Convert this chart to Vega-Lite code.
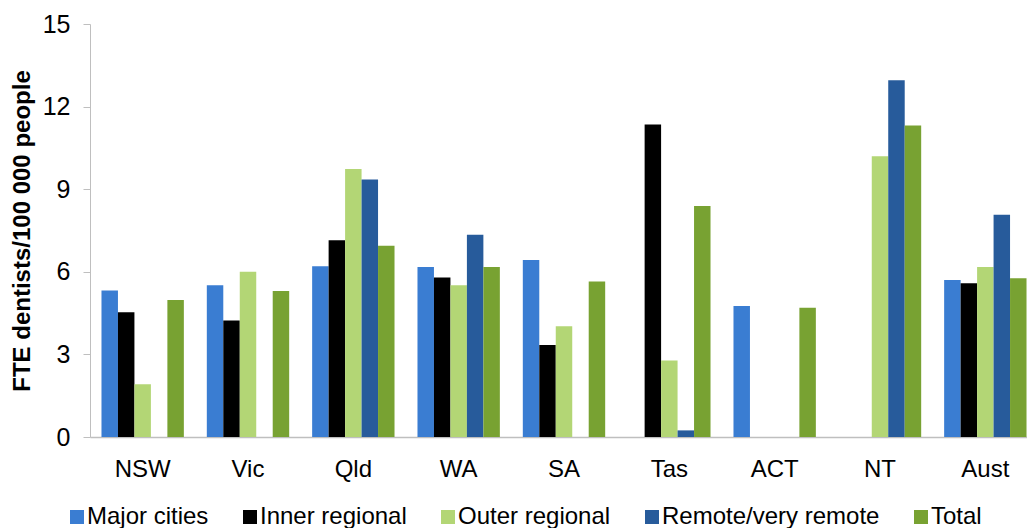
{
  "$schema": "https://vega.github.io/schema/vega-lite/v6.json",
  "width": 948,
  "height": 413,
  "autosize": {"type": "none"},
  "padding": {"left": 90, "top": 24, "right": 0, "bottom": 91},
  "background": "white",
  "config": {
    "view": {"stroke": null},
    "font": "Liberation Sans",
    "axis": {"domainColor": "#BFBFBF", "tickColor": "#BFBFBF", "labelColor": "#000000", "titleColor": "#000000", "grid": false}
  },
  "data": {
    "values": [
      {"state": "NSW", "area": "Major cities", "value": 5.32},
      {"state": "NSW", "area": "Inner regional", "value": 4.53},
      {"state": "NSW", "area": "Outer regional", "value": 1.92},
      {"state": "NSW", "area": "Total", "value": 4.98},
      {"state": "Vic", "area": "Major cities", "value": 5.51},
      {"state": "Vic", "area": "Inner regional", "value": 4.23},
      {"state": "Vic", "area": "Outer regional", "value": 6.0},
      {"state": "Vic", "area": "Total", "value": 5.3},
      {"state": "Qld", "area": "Major cities", "value": 6.2},
      {"state": "Qld", "area": "Inner regional", "value": 7.15},
      {"state": "Qld", "area": "Outer regional", "value": 9.73},
      {"state": "Qld", "area": "Remote/very remote", "value": 9.35},
      {"state": "Qld", "area": "Total", "value": 6.95},
      {"state": "WA", "area": "Major cities", "value": 6.17},
      {"state": "WA", "area": "Inner regional", "value": 5.79},
      {"state": "WA", "area": "Outer regional", "value": 5.51},
      {"state": "WA", "area": "Remote/very remote", "value": 7.35},
      {"state": "WA", "area": "Total", "value": 6.17},
      {"state": "SA", "area": "Major cities", "value": 6.43},
      {"state": "SA", "area": "Inner regional", "value": 3.34},
      {"state": "SA", "area": "Outer regional", "value": 4.02},
      {"state": "SA", "area": "Total", "value": 5.65},
      {"state": "Tas", "area": "Inner regional", "value": 11.35},
      {"state": "Tas", "area": "Outer regional", "value": 2.78},
      {"state": "Tas", "area": "Remote/very remote", "value": 0.24},
      {"state": "Tas", "area": "Total", "value": 8.39},
      {"state": "ACT", "area": "Major cities", "value": 4.76},
      {"state": "ACT", "area": "Total", "value": 4.69},
      {"state": "NT", "area": "Outer regional", "value": 10.2},
      {"state": "NT", "area": "Remote/very remote", "value": 12.96},
      {"state": "NT", "area": "Total", "value": 11.31},
      {"state": "Aust", "area": "Major cities", "value": 5.7},
      {"state": "Aust", "area": "Inner regional", "value": 5.58},
      {"state": "Aust", "area": "Outer regional", "value": 6.17},
      {"state": "Aust", "area": "Remote/very remote", "value": 8.07},
      {"state": "Aust", "area": "Total", "value": 5.77}
    ]
  },
  "mark": {"type": "bar"},
  "encoding": {
    "x": {
      "field": "state",
      "type": "nominal",
      "sort": ["NSW", "Vic", "Qld", "WA", "SA", "Tas", "ACT", "NT", "Aust"],
      "scale": {"paddingInner": 0.218, "paddingOuter": 0.109},
      "axis": {"title": null, "labelAngle": 0, "ticks": false, "labelPadding": 20, "labelFontSize": 24, "domainWidth": 1.5}
    },
    "xOffset": {
      "field": "area",
      "type": "nominal",
      "scale": {"domain": ["Major cities", "Inner regional", "Outer regional", "Remote/very remote", "Total"], "paddingInner": 0, "paddingOuter": 0}
    },
    "y": {
      "field": "value",
      "type": "quantitative",
      "scale": {"domain": [0, 15], "nice": false},
      "axis": {
        "title": "FTE dentists/100 000 people",
        "titleFontSize": 24,
        "titleFontWeight": "bold",
        "titlePadding": 8,
        "values": [0, 3, 6, 9, 12, 15],
        "tickSize": 7,
        "labelPadding": 13,
        "labelFontSize": 25
      }
    },
    "color": {
      "field": "area",
      "type": "nominal",
      "scale": {
        "domain": ["Major cities", "Inner regional", "Outer regional", "Remote/very remote", "Total"],
        "range": ["#3A7DD2", "#000000", "#B3D675", "#275B9B", "#78A232"]
      },
      "legend": {
        "title": null,
        "orient": "none",
        "direction": "horizontal",
        "legendX": -25,
        "legendY": 481,
        "padding": 0,
        "symbolType": "square",
        "symbolSize": 196,
        "symbolStrokeWidth": 0,
        "labelFontSize": 24,
        "labelLimit": 0,
        "labelColor": "#000000",
        "labelOffset": -2,
        "columnPadding": 29
      }
    }
  }
}
